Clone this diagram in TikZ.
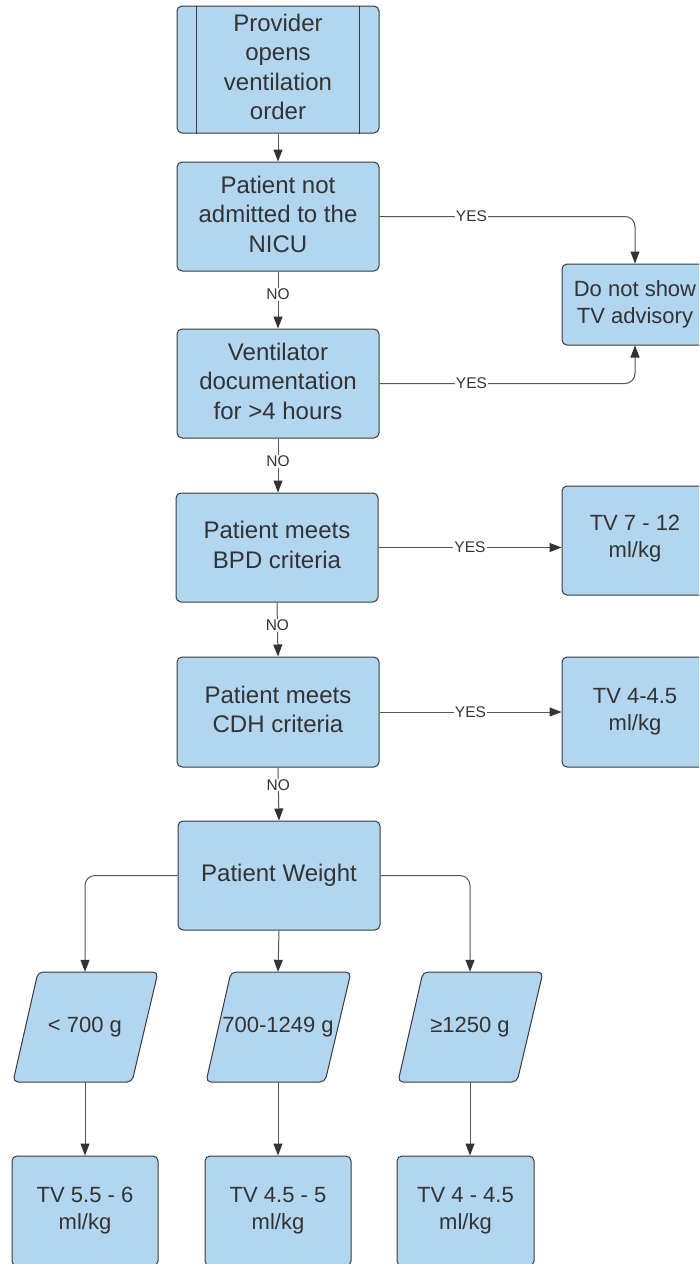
\documentclass[tikz,border=0pt]{standalone}
\usepackage{fontspec}
\setmainfont{Liberation Sans}
\usetikzlibrary{arrows.meta,calc}
\definecolor{boxfill}{HTML}{B2D5F0}
\definecolor{boxline}{HTML}{3A3A3A}
\definecolor{txt}{HTML}{333333}
\definecolor{conn}{HTML}{555555}
\begin{document}
\begin{tikzpicture}[x=1pt,y=-1pt,
  box/.style={draw=boxline, fill=boxfill, line width=1pt, rounded corners=5pt, align=center, inner sep=0pt, text=txt, font=\fontsize{24}{29.5}\selectfont, minimum width=202pt, minimum height=109pt},
  sbox/.style={box, font=\fontsize{22}{27}\selectfont, minimum width=146pt},
  btext/.style={align=center, inner sep=0pt, text=txt, font=\fontsize{24}{29.5}\selectfont},
  stext/.style={btext, font=\fontsize{22}{27}\selectfont},
  ptext/.style={inner sep=0pt, text=txt, font=\fontsize{22}{27}\selectfont, minimum width=120pt, minimum height=110pt},
  pshape/.style={draw=boxline, fill=boxfill, line width=1pt, rounded corners=5pt},
  arr/.style={draw=conn, line width=1pt, -{Triangle[length=12pt,width=9pt,color=txt]}},
  lbl/.style={fill=white, inner sep=1pt, text=txt, font=\fontsize{15.5}{18}\selectfont},
]
\useasboundingbox (0,0) rectangle (699,1264);
\fill[white] (0,0) rectangle (699,1264);
\clip (0,0) rectangle (699,1264);

% main column
\node[box, minimum height=127pt] (A) at (278,69.5) {};
\node[btext] (At) at ($(A)+(0,-2.5)$) {Provider\\opens\\ventilation\\order};
\draw[boxline, line width=1pt] ($(A.north west)+(20,0)$) -- ($(A.south west)+(20,0)$);
\draw[boxline, line width=1pt] ($(A.north east)+(-20,0)$) -- ($(A.south east)+(-20,0)$);
\node[box] (B) at (278,216.5) {};
\node[btext] (Bt) at ($(B)+(0,-2.5)$) {Patient not\\admitted to the\\NICU};
\node[sbox, minimum height=81pt] (C) at (635,304.5) {Do not show\\TV advisory};
\node[box] (D) at (278,383.5) {};
\node[btext] (Dt) at ($(D)+(0,-2.5)$) {Ventilator\\documentation\\for >4 hours};
\node[box] (E) at (277,547.5) {};
\node[btext] (Et) at ($(E)+(0,-2.5)$) {Patient meets\\BPD criteria};
\node[sbox] (T1) at (635,540.5) {};
\node[stext] (T1t) at ($(T1)+(0,-2)$) {TV 7 - 12\\ml/kg};
\node[box, minimum height=110pt] (F) at (278,712) {};
\node[btext] (Ft) at ($(F)+(0,-2.5)$) {Patient meets\\CDH criteria};
\node[sbox, minimum height=110pt] (T2) at (635,712) {TV 4-4.5\\ml/kg};
\node[box] (G) at (279,875.5) {Patient Weight};

% parallelograms
\coordinate (pc1) at (85,1027);
\coordinate (pc2) at (278,1027);
\coordinate (pc3) at (470,1027);
\foreach \c in {pc1,pc2,pc3}{
  \draw[pshape] ($(\c)+(13,-55)$) -- ($(\c)+(73,-55)$) -- ($(\c)+(47,55)$) -- ($(\c)+(-72,55)$) -- ($(\c)+(-47,-55)$) -- cycle;
}
\node[ptext] (P1) at (pc1) {< 700 g};
\node[ptext] (P2) at (pc2) {700-1249 g};
\node[ptext] (P3) at (pc3) {≥1250 g};

% bottom boxes
\node[sbox, minimum height=110pt] (B1) at (85,1211) {TV 5.5 - 6\\ml/kg};
\node[sbox, minimum height=110pt] (B2) at (278,1211) {TV 4.5 - 5\\ml/kg};
\node[sbox, minimum height=110pt, minimum width=137pt] (B3) at (465.5,1211) {TV 4 - 4.5\\ml/kg};

% connectors
\draw[arr] (A.south) -- (B.north);
\draw[arr, rounded corners=10pt] (B.east) -- node[lbl, pos=0.36]{YES} (B.east -| C.north) -- (C.north);
\draw[arr] (B.south) -- node[lbl, pos=0.4]{NO} (D.north);
\draw[arr, rounded corners=10pt] (D.east) -- node[lbl, pos=0.36]{YES} (D.east -| C.south) -- (C.south);
\draw[arr] (D.south) -- node[lbl, pos=0.42]{NO} (D.south |- E.north);
\draw[arr] (E.east) -- node[lbl]{YES} (E.east -| T1.west);
\draw[arr] (E.south) -- node[lbl, pos=0.42]{NO} (F.north);
\draw[arr] (F.east) -- node[lbl]{YES} (T2.west);
\draw[arr] (F.south) -- node[lbl, pos=0.33]{NO} (G.north);
\draw[arr, rounded corners=10pt] (G.west) -| (P1.north);
\draw[arr] (G.south) -- (P2.north);
\draw[arr, rounded corners=10pt] (G.east) -| (P3.north);
\draw[arr] (P1.south) -- (B1.north);
\draw[arr] (P2.south) -- (B2.north);
\draw[arr] (P3.south) -- (P3.south |- B3.north);
\end{tikzpicture}
\end{document}
